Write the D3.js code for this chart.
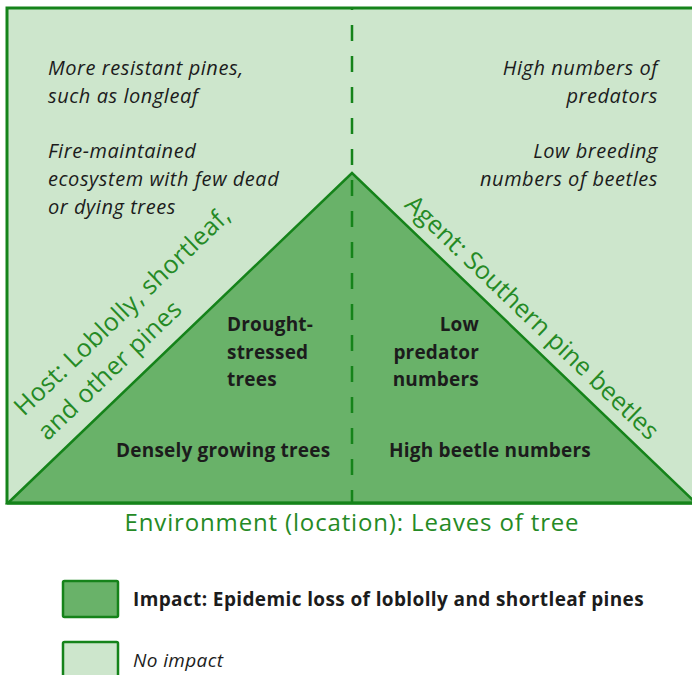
<!DOCTYPE html>
<html>
<head>
<meta charset="utf-8">
<script src="https://cdn.jsdelivr.net/npm/d3@7"></script>
<style>
  body { margin: 0; background: #fff; }
  svg { display: block; font-family: "Open Sans", Lato, sans-serif; }
</style>
</head>
<body>
<svg width="692" height="675"></svg>
<script>
// diagram space: x 0..1 across the base, y 0 = base, 1 = apex
var triangle = [[0, 0], [0.5, 1], [1, 0]];
var hostLines = ["Host: Loblolly, shortleaf,", "and other pines"];
var agentLabel = "Agent: Southern pine beetles";
var envLabel = "Environment (location): Leaves of tree";
var leftOuter = ["More resistant pines,", "such as longleaf", "", "Fire-maintained", "ecosystem with few dead", "or dying trees"];
var rightOuter = ["High numbers of", "predators", "", "Low breeding", "numbers of beetles"];
var leftInner = ["Drought-", "stressed", "trees"];
var rightInner = ["Low", "predator", "numbers"];
var bottomInner = ["Densely growing trees", "High beetle numbers"];
var legendItems = [
  {label: "Impact: Epidemic loss of loblolly and shortleaf pines", impact: true},
  {label: "No impact", impact: false}
];

var dark = "#15831a", fillDark = "#69b269", fillLight = "#cde6cc", textGreen = "#258a25", ink = "#1c1c1c";

var svg = d3.select("svg");
var x = d3.scaleLinear().domain([0, 1]).range([8, 696]),
    y = d3.scaleLinear().domain([0, 1]).range([503, 173]);
var boxTop = 1.5;

// background box
svg.append("rect")
  .attr("x", x(0) - 1).attr("y", y(boxTop))
  .attr("width", 720).attr("height", y(0) - y(boxTop))
  .attr("fill", fillLight).attr("stroke", dark).attr("stroke-width", 3);

var line = d3.line().x(d => x(d[0])).y(d => y(d[1]));
svg.append("path")
  .datum(triangle)
  .attr("d", line(triangle) + "Z")
  .attr("fill", fillDark).attr("stroke", dark).attr("stroke-width", 2.5)
  .attr("stroke-linejoin", "miter");

// base line again on top
svg.append("line")
  .attr("x1", x(0) - 1).attr("x2", 700).attr("y1", y(0)).attr("y2", y(0))
  .attr("stroke", dark).attr("stroke-width", 3);

// dashed center line
svg.append("line")
  .attr("x1", x(0.5)).attr("x2", x(0.5))
  .attr("y1", y(boxTop)).attr("y2", y(0))
  .attr("stroke", dark).attr("stroke-width", 2.5)
  .attr("stroke-dasharray", "16,15").attr("stroke-dashoffset", 14);

function block(lines, px, py, anchor, style, weight, lh, fs, ls) {
  var t = svg.append("text")
    .attr("x", px).attr("y", py)
    .attr("text-anchor", anchor)
    .attr("font-size", fs)
    .attr("letter-spacing", ls)
    .attr("font-style", style).attr("font-weight", weight)
    .attr("fill", ink);
  lines.forEach(function(s, i) {
    t.append("tspan").attr("x", px).attr("y", py + i * lh).text(s);
  });
}

block(leftOuter, 48, 75, "start", "italic", "normal", 27.8, 20, 0.55);
block(rightOuter, 658, 75, "end", "italic", "normal", 27.8, 20, 0.55);
block(leftInner, 227, 331, "start", "normal", "bold", 27.5, 19, 0.2);
block(rightInner, 479, 331, "end", "normal", "bold", 27.5, 19, 0.2);
block([bottomInner[0]], 116, 457, "start", "normal", "bold", 0, 19, 0.2);
block([bottomInner[1]], 389, 457, "start", "normal", "bold", 0, 19, 0.2);

// side labels, rotated along the triangle edges
var angL = Math.atan2(y(0) - y(1), x(0.5) - x(0)) * 180 / Math.PI;
var host = svg.append("g")
  .attr("transform", "translate(" + x(0) + "," + y(0) + ") rotate(" + (-angL) + ")");
hostLines.forEach(function(s, i) {
  host.append("text")
    .attr("x", 71).attr("y", i === 0 ? -51 : -17)
    .attr("font-size", 25).attr("letter-spacing", 0.3).attr("fill", textGreen)
    .text(s);
});

var angR = Math.atan2(y(0) - y(1), x(1) - x(0.5)) * 180 / Math.PI;
svg.append("g")
  .attr("transform", "translate(" + x(0.5) + "," + y(1) + ") rotate(" + angR + ")")
  .append("text")
  .attr("x", 60).attr("y", -12)
  .attr("font-size", 25).attr("letter-spacing", 0.1).attr("fill", textGreen)
  .text(agentLabel);

svg.append("text")
  .attr("x", x(0.5)).attr("y", 531)
  .attr("text-anchor", "middle")
  .attr("font-size", 24).attr("letter-spacing", 0.85).attr("fill", textGreen)
  .text(envLabel);

// legend
var leg = svg.selectAll(".legend")
  .data(legendItems)
  .enter().append("g")
  .attr("class", "legend")
  .attr("transform", (d, i) => "translate(63," + (581 + i * 61) + ")");
leg.append("rect")
  .attr("width", 55).attr("height", 36).attr("rx", 1.5)
  .attr("fill", d => d.impact ? fillDark : fillLight)
  .attr("stroke", dark).attr("stroke-width", 2.5);
leg.append("text")
  .attr("x", 70).attr("y", 25)
  .attr("font-size", 19)
  .attr("letter-spacing", 0.38)
  .attr("font-weight", d => d.impact ? "bold" : "normal")
  .attr("font-style", d => d.impact ? "normal" : "italic")
  .attr("fill", ink)
  .text(d => d.label);
</script>
</body>
</html>
